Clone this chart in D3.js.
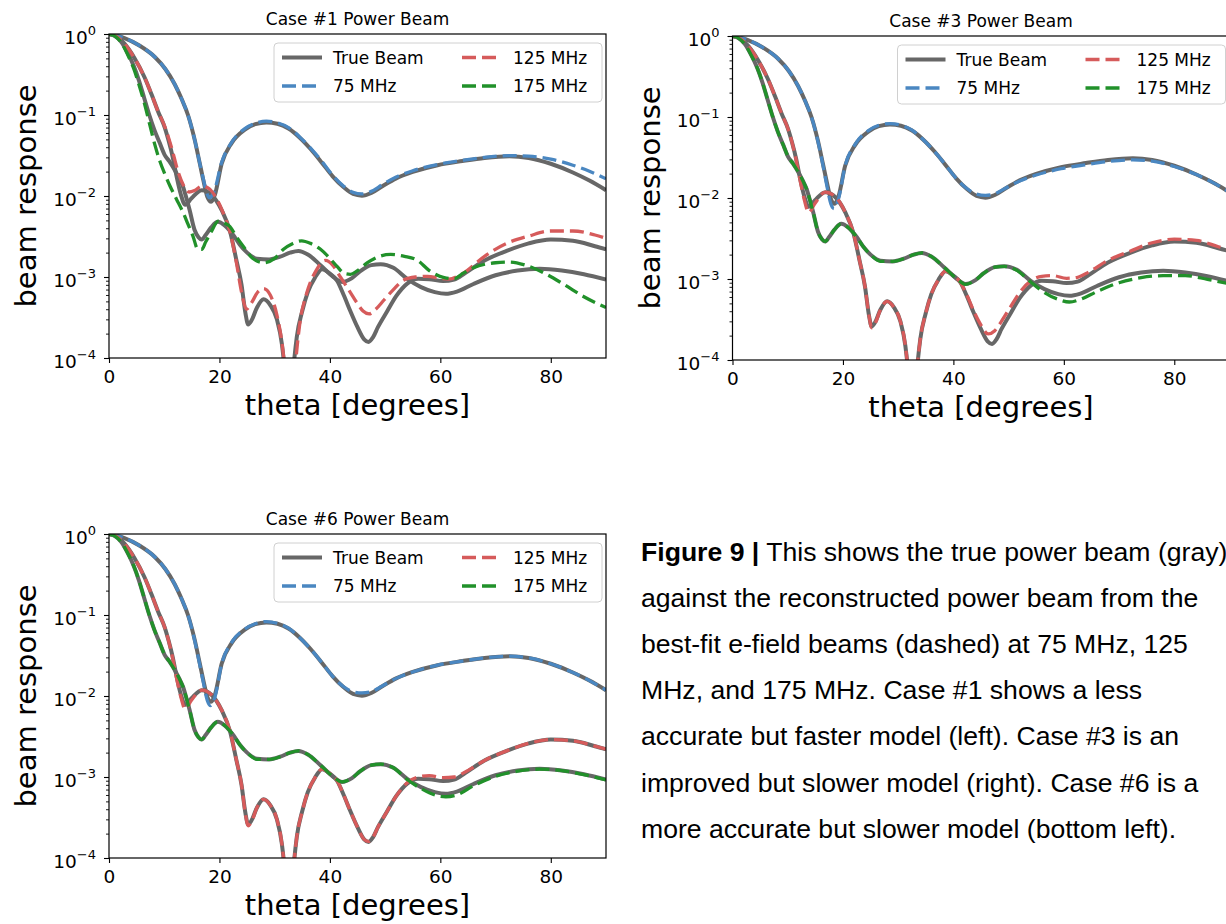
<!DOCTYPE html>
<html><head><meta charset="utf-8">
<script src="https://cdn.jsdelivr.net/npm/d3@7"></script>
<style>
html,body{margin:0;padding:0;background:#fff;overflow:hidden}
svg{display:block}
</style></head><body>
<svg id="chart" width="1226" height="924"></svg>
<script>
// ---------- data: [theta (deg), beam response] ----------
const xTicks = [0, 20, 40, 60, 80];
const yTickExps = [0, -1, -2, -3, -4];
const legendLabels = ["True Beam", "75 MHz", "125 MHz", "175 MHz"];
const panelTitles = ["Case #1 Power Beam", "Case #3 Power Beam", "Case #6 Power Beam"];

const true75 = [[0,1],[2.8,0.89],[5.5,0.72],[8.3,0.52],[10.2,0.37],[11.9,0.24],[13.2,0.155],[14.3,0.1],[15.5,0.05],[16.4,0.026],[17.1,0.0155],[17.8,0.0098],[18.5,0.0085],[19.2,0.0105],[20.4,0.025],[22.2,0.045],[24.6,0.066],[26.5,0.077],[28.5,0.081],[30.5,0.078],[32.5,0.068],[34.6,0.052],[36.5,0.038],[38.5,0.026],[40.5,0.0175],[42.5,0.0128],[44.2,0.0106],[45.8,0.0101],[47.5,0.0109],[49.5,0.0132],[52,0.0165],[55,0.0198],[59.5,0.024],[64,0.027],[68,0.0295],[72.5,0.031],[76,0.0295],[80,0.025],[84,0.0195],[87,0.0155],[90,0.0118]];
const true125 = [[0,1],[1.2,0.95],[2.8,0.76],[4.5,0.52],[6.45,0.29],[7.7,0.18],[8.9,0.11],[10.1,0.07],[10.8,0.048],[11.5,0.031],[12.2,0.018],[13,0.0105],[13.8,0.0078],[14.9,0.0093],[16.8,0.0118],[18.6,0.0103],[20.4,0.0067],[21.9,0.0037],[23,0.0017],[24,0.0008],[24.7,0.00036],[25.2,0.00026],[25.8,0.00029],[26.8,0.00042],[28,0.00053],[29.2,0.00045],[30.4,0.0003],[31.3,0.00015],[32,0.00005],[32.6,0.00001],[33.2,0.00005],[34,0.00018],[35,0.00038],[36,0.00065],[37.3,0.00098],[38.6,0.00125],[40,0.0011],[41.3,0.0009],[42.5,0.0006],[43.7,0.00038],[45,0.00024],[46.2,0.00017],[47,0.000158],[47.8,0.00018],[48.7,0.00024],[50.4,0.00038],[52,0.00058],[54,0.00083],[56,0.00095],[58,0.00094],[60.5,0.00089],[62.5,0.00093],[64.5,0.00112],[68,0.0016],[72,0.0021],[76,0.0026],[80,0.0029],[84,0.0028],[88,0.0024],[90,0.0022]];
const true175 = [[0,1],[1,0.95],[2.2,0.8],[3.4,0.58],[4.5,0.4],[5.4,0.27],[6.4,0.16],[7.3,0.1],[8.2,0.066],[9.2,0.045],[10.1,0.032],[10.9,0.027],[11.9,0.021],[12.8,0.016],[13.4,0.013],[14,0.0095],[14.6,0.0067],[15.5,0.0038],[16.2,0.0031],[16.8,0.0029],[17.5,0.0033],[18.5,0.0041],[19.7,0.0048],[21,0.0043],[22.5,0.0033],[23.7,0.0025],[25,0.002],[26.8,0.00168],[29,0.00165],[31,0.00178],[32.8,0.002],[34.3,0.0021],[36,0.0019],[38.3,0.0014],[40.5,0.00102],[42.2,0.00087],[44,0.00097],[45.5,0.00118],[47.5,0.0014],[49.2,0.00144],[51.5,0.0013],[54,0.00095],[56.5,0.00075],[59,0.00065],[61,0.00062],[63,0.00066],[66,0.00082],[70,0.00105],[74,0.0012],[78,0.00126],[82,0.0012],[86,0.00108],[90,0.00093]];

// Case #1 reconstructions
const case1_75 = [[0,1],[2.8,0.89],[5.5,0.72],[8.3,0.52],[10.2,0.37],[11.9,0.24],[13.2,0.155],[14.3,0.1],[15.5,0.05],[16.4,0.026],[17.1,0.016],[17.8,0.0105],[18.2,0.0095],[19,0.0112],[20.4,0.026],[22.2,0.046],[24.6,0.068],[26.5,0.079],[28.5,0.084],[30.5,0.08],[32.5,0.07],[34.6,0.053],[36.5,0.039],[38.5,0.027],[40.5,0.018],[42.5,0.0132],[44.2,0.0111],[45.8,0.0106],[47.5,0.0114],[49.5,0.0138],[52,0.0172],[55,0.0205],[59.5,0.0245],[64,0.0275],[68,0.030],[72.5,0.0315],[76,0.031],[80,0.0285],[84,0.024],[87,0.0202],[90,0.0163]];
const case1_125 = [[0,1],[1.2,0.95],[2.8,0.76],[4.5,0.52],[6.45,0.29],[7.7,0.18],[8.9,0.11],[10.1,0.072],[10.8,0.052],[11.5,0.036],[12.5,0.02],[13.5,0.0135],[14.5,0.0112],[15.5,0.0117],[16.8,0.0132],[18,0.0125],[19.5,0.0092],[20.5,0.0066],[22,0.0034],[23,0.0016],[24,0.00065],[24.9,0.0004],[25.8,0.00048],[27,0.00066],[28,0.00072],[29.2,0.0006],[30.4,0.00034],[31.4,0.00014],[32.2,0.00004],[32.8,0.00001],[33.5,0.00005],[34.5,0.00025],[35.8,0.00063],[37.5,0.0012],[39.2,0.0016],[40.5,0.0014],[41.9,0.001],[43.5,0.00068],[44.9,0.00048],[46,0.00038],[47.1,0.00035],[48.3,0.0004],[49.8,0.00052],[51.5,0.0007],[53.4,0.00092],[55.5,0.001],[57.7,0.00102],[60,0.00096],[61.5,0.00094],[64,0.0011],[68,0.0018],[72,0.0026],[76,0.0032],[80,0.0037],[84,0.0037],[88,0.0033],[90,0.003]];
const case1_175 = [[0,1],[1,0.95],[2.2,0.79],[3.4,0.55],[4.5,0.37],[5.4,0.24],[6.4,0.14],[7.4,0.075],[8.3,0.043],[9.2,0.027],[10.2,0.018],[11,0.0135],[12.2,0.0092],[13.4,0.0063],[14.3,0.0045],[15.2,0.0032],[16.1,0.0022],[16.8,0.0022],[17.5,0.0027],[18.5,0.0036],[19.8,0.0049],[21,0.0046],[21.9,0.0042],[23,0.0032],[24.3,0.0024],[26,0.0017],[28,0.0015],[30,0.0017],[31.6,0.0022],[33.3,0.0026],[34.9,0.0028],[36.5,0.0026],[38.3,0.0022],[40,0.0017],[41.3,0.00135],[42.7,0.0011],[43.7,0.00108],[45,0.0012],[46.8,0.0015],[49,0.0018],[51,0.0019],[53.5,0.0018],[55.9,0.0016],[58,0.0012],[60.7,0.00098],[62.5,0.00095],[64,0.0011],[66,0.0013],[70,0.0015],[72.5,0.00153],[75.4,0.0014],[79,0.0011],[82.5,0.0008],[86,0.00057],[90,0.00042]];

// Case #3 reconstructions
const case3_75 = [[0,1],[2.8,0.89],[5.5,0.72],[8.3,0.52],[10.2,0.37],[11.9,0.24],[13.2,0.155],[14.3,0.1],[15.5,0.049],[16.4,0.025],[17.1,0.014],[17.8,0.0085],[18.4,0.0074],[19.2,0.0098],[20.4,0.025],[22.2,0.046],[24.6,0.068],[26.5,0.079],[28.5,0.083],[30.5,0.079],[32.5,0.069],[34.6,0.052],[36.5,0.038],[38.5,0.026],[40.5,0.0175],[42.5,0.013],[44.2,0.0112],[45.8,0.0108],[47.5,0.0113],[49.5,0.0133],[52,0.0162],[55,0.0192],[59.5,0.023],[64,0.0258],[68,0.0282],[72.5,0.0295],[76,0.0285],[80,0.0245],[84,0.0195],[87,0.0155],[90,0.0118]];
const case3_125 = [[0,1],[1.2,0.95],[2.8,0.76],[4.5,0.52],[6.45,0.29],[7.7,0.18],[8.9,0.11],[10.1,0.07],[10.8,0.048],[11.5,0.03],[12.2,0.017],[13,0.0095],[13.8,0.0066],[14.9,0.0085],[16.8,0.0118],[18.6,0.0104],[20.4,0.0067],[21.9,0.0037],[23,0.0017],[24,0.0008],[24.7,0.00036],[25.2,0.00025],[25.8,0.00028],[26.8,0.00042],[28,0.00053],[29.2,0.00045],[30.4,0.0003],[31.3,0.00015],[32,0.00005],[32.6,0.00001],[33.2,0.00005],[34,0.00018],[35,0.00038],[36,0.00065],[37.3,0.00098],[38.6,0.00125],[40,0.0011],[41.3,0.0009],[42.5,0.00062],[43.7,0.0004],[45,0.00027],[46.3,0.00021],[47.5,0.00023],[48.7,0.0003],[50.4,0.00046],[52,0.00068],[54,0.00095],[56,0.00108],[58,0.0011],[60.5,0.00102],[62.5,0.00105],[64.5,0.00122],[68,0.0017],[72,0.0022],[76,0.0028],[80,0.0031],[84,0.003],[88,0.0025],[90,0.0023]];
const case3_175 = [[0,1],[1,0.95],[2.2,0.8],[3.4,0.58],[4.5,0.4],[5.4,0.27],[6.4,0.16],[7.3,0.1],[8.2,0.066],[9.2,0.045],[10.1,0.032],[10.9,0.027],[11.9,0.021],[12.8,0.016],[13.4,0.013],[14,0.0095],[14.6,0.0067],[15.5,0.0038],[16.2,0.0031],[16.8,0.0029],[17.5,0.0033],[18.5,0.0041],[19.7,0.0048],[21,0.0043],[22.5,0.0033],[23.7,0.0025],[25,0.002],[26.8,0.00165],[29,0.00165],[31,0.00178],[32.8,0.002],[34.3,0.0021],[36,0.0019],[38.3,0.0014],[40.5,0.00102],[42.2,0.00086],[44,0.00097],[45.5,0.00118],[47.5,0.0014],[49.2,0.00143],[51.5,0.00128],[54,0.00092],[56.5,0.00068],[59,0.00056],[61,0.00052],[63,0.00056],[66,0.0007],[70,0.0009],[74,0.00104],[78,0.0011],[82,0.0011],[86,0.00099],[90,0.00087]];

// Case #6 reconstructions
const case6_75 = [[0,1],[2.8,0.89],[5.5,0.72],[8.3,0.52],[10.2,0.37],[11.9,0.24],[13.2,0.155],[14.3,0.1],[15.5,0.049],[16.4,0.025],[17.1,0.0145],[17.8,0.0088],[18.4,0.0076],[19.2,0.0098],[20.4,0.025],[22.2,0.046],[24.6,0.067],[26.5,0.078],[28.5,0.083],[30.5,0.079],[32.5,0.069],[34.6,0.052],[36.5,0.038],[38.5,0.026],[40.5,0.0175],[42.5,0.013],[44.2,0.0113],[45.8,0.0109],[47.5,0.0113],[49.5,0.0133],[52,0.0165],[55,0.0198],[59.5,0.024],[64,0.027],[68,0.0295],[72.5,0.031],[76,0.0295],[80,0.025],[84,0.0195],[87,0.0155],[90,0.0118]];
const case6_125 = [[0,1],[1.2,0.95],[2.8,0.76],[4.5,0.52],[6.45,0.29],[7.7,0.18],[8.9,0.11],[10.1,0.07],[10.8,0.048],[11.5,0.03],[12.2,0.017],[13,0.0098],[13.8,0.0069],[14.9,0.0088],[16.8,0.0118],[18.6,0.0103],[20.4,0.0067],[21.9,0.0037],[23,0.0017],[24,0.0008],[24.7,0.00035],[25.2,0.00025],[25.8,0.00028],[26.8,0.00042],[28,0.00053],[29.2,0.00045],[30.4,0.0003],[31.3,0.00015],[32,0.00005],[32.6,0.00001],[33.2,0.00005],[34,0.00018],[35,0.00038],[36,0.00065],[37.3,0.00098],[38.6,0.00125],[40,0.0011],[41.3,0.0009],[42.5,0.0006],[43.7,0.00038],[45,0.00024],[46.2,0.00017],[47,0.00016],[47.8,0.00018],[48.7,0.00024],[50.4,0.00038],[52,0.00058],[54,0.00085],[56,0.001],[58,0.00104],[60.5,0.00098],[62.5,0.001],[64.5,0.00115],[68,0.0016],[72,0.0021],[76,0.0026],[80,0.0029],[84,0.0028],[88,0.0024],[90,0.0022]];
const case6_175 = [[0,1],[1,0.95],[2.2,0.8],[3.4,0.58],[4.5,0.4],[5.4,0.27],[6.4,0.16],[7.3,0.1],[8.2,0.066],[9.2,0.045],[10.1,0.032],[10.9,0.027],[11.9,0.021],[12.8,0.016],[13.4,0.013],[14,0.0095],[14.6,0.0067],[15.5,0.0038],[16.2,0.0031],[16.8,0.0029],[17.5,0.0033],[18.5,0.0041],[19.7,0.0048],[21,0.0043],[22.5,0.0033],[23.7,0.0025],[25,0.002],[26.8,0.00165],[29,0.00165],[31,0.00178],[32.8,0.002],[34.3,0.0021],[36,0.0019],[38.3,0.0014],[40.5,0.00102],[42.2,0.00087],[44,0.00097],[45.5,0.00118],[47.5,0.0014],[49.2,0.00144],[51.5,0.0013],[54,0.00093],[56.5,0.00072],[59,0.0006],[61,0.00057],[63,0.0006],[66,0.00078],[70,0.00102],[74,0.00118],[78,0.00125],[82,0.0012],[86,0.00107],[90,0.00092]];

const captionLines = [
  ["Figure 9 |", " This shows the true power beam (gray)"],
  ["", "against the reconstructed power beam from the"],
  ["", "best-fit e-field beams (dashed) at 75 MHz, 125"],
  ["", "MHz, and 175 MHz. Case #1 shows a less"],
  ["", "accurate but faster model (left). Case #3 is an"],
  ["", "improved but slower model (right). Case #6 is a"],
  ["", "more accurate but slower model (bottom left)."]
];

// ---------- styling / layout ----------
const FONT = "DejaVu Sans, sans-serif";
const GRAY = "#676767", BLUE = "#4a87c1", RED = "#d65b5b", GREEN = "#21912a";
const PW = 497, PH = 324;

const svg = d3.select("#chart");
svg.append("rect").attr("width", 1226).attr("height", 924).attr("fill", "#fff");

const panels = [
  {id: "p1", title: panelTitles[0], left: 109, top: 34, recon: [case1_75, case1_125, case1_175]},
  {id: "p2", title: panelTitles[1], left: 732.5, top: 36, recon: [case3_75, case3_125, case3_175]},
  {id: "p3", title: panelTitles[2], left: 109, top: 534, recon: [case6_75, case6_125, case6_175]}
];

const x = d3.scaleLinear().domain([0, 90]).range([0, PW]);
const y = d3.scaleLog().domain([1e-4, 1]).range([PH, 0]);
const line = d3.line().x(d => x(d[0])).y(d => y(d[1])).curve(d3.curveMonotoneX);

const minorTicks = [];
for (let e = -4; e < 0; e++) for (let k = 2; k <= 9; k++) minorTicks.push(k * Math.pow(10, e));

const defs = svg.append("defs");

panels.forEach(p => {
  defs.append("clipPath").attr("id", "clip-" + p.id)
    .append("rect").attr("x", 0).attr("y", 0).attr("width", PW).attr("height", PH);

  const g = svg.append("g").attr("transform", `translate(${p.left},${p.top})`);
  const lines = g.append("g").attr("clip-path", `url(#clip-${p.id})`);

  [true75, true125, true175].forEach(s => {
    lines.append("path").datum(s).attr("d", line)
      .attr("fill", "none").attr("stroke", GRAY).attr("stroke-width", 4)
      .attr("stroke-linejoin", "round");
  });
  [BLUE, RED, GREEN].forEach((c, i) => {
    lines.append("path").datum(p.recon[i]).attr("d", line)
      .attr("fill", "none").attr("stroke", c).attr("stroke-width", 3.3)
      .attr("stroke-dasharray", "14,6");
  });

  // x axis
  const xa = g.append("g").attr("transform", `translate(0,${PH})`)
    .call(d3.axisBottom(x).tickValues(xTicks).tickSize(5).tickPadding(7).tickSizeOuter(0));
  xa.select(".domain").remove();
  xa.selectAll("text").attr("font-family", FONT).attr("font-size", 18.5).attr("fill", "#000");
  xa.selectAll("line").attr("stroke", "#000").attr("stroke-width", 1.1);

  // y axis minor + major ticks
  const ym = g.append("g").call(d3.axisLeft(y).tickValues(minorTicks).tickSize(3).tickFormat(""));
  ym.select(".domain").remove();
  ym.selectAll("line").attr("stroke", "#000").attr("stroke-width", 0.9);
  const yM = g.append("g").call(d3.axisLeft(y).tickValues(yTickExps.map(e => Math.pow(10, e))).tickSize(5).tickFormat(""));
  yM.select(".domain").remove();
  yM.selectAll("line").attr("stroke", "#000").attr("stroke-width", 1.1);
  yTickExps.forEach(e => {
    const t = g.append("text").attr("x", -13).attr("y", y(Math.pow(10, e)) + 9.5)
      .attr("text-anchor", "end").attr("font-family", FONT).attr("font-size", 18.5).attr("fill", "#000")
      .text("10");
    t.append("tspan").attr("dy", -8.5).attr("font-size", 13).text(e === 0 ? "0" : "\u2212" + Math.abs(e));
  });

  // frame
  g.append("rect").attr("width", PW).attr("height", PH).attr("fill", "none")
    .attr("stroke", "#000").attr("stroke-width", 1.2);

  // labels
  g.append("text").attr("x", PW / 2).attr("y", -9).attr("text-anchor", "middle")
    .attr("font-family", FONT).attr("font-size", 17).text(p.title);
  g.append("text").attr("x", PW / 2).attr("y", 381).attr("text-anchor", "middle")
    .attr("font-family", FONT).attr("font-size", 29).text("theta [degrees]");
  g.append("text").attr("transform", `translate(${36 - 109},${PH / 2}) rotate(-90)`)
    .attr("text-anchor", "middle").attr("font-family", FONT).attr("font-size", 29).text("beam response");

  // legend
  const lg = g.append("g").attr("transform", "translate(165,9)");
  lg.append("rect").attr("width", 328).attr("height", 59).attr("rx", 4)
    .attr("fill", "#fff").attr("fill-opacity", 0.85).attr("stroke", "#d0d0d0").attr("stroke-width", 1);
  const items = [
    {label: legendLabels[0], color: GRAY, dash: null, x: 8, y: 14.5},
    {label: legendLabels[1], color: BLUE, dash: "14,6", x: 8, y: 43},
    {label: legendLabels[2], color: RED, dash: "14,6", x: 188, y: 14.5},
    {label: legendLabels[3], color: GREEN, dash: "14,6", x: 188, y: 43}
  ];
  items.forEach(it => {
    lg.append("line").attr("x1", it.x).attr("x2", it.x + 40).attr("y1", it.y).attr("y2", it.y)
      .attr("stroke", it.color).attr("stroke-width", it.dash ? 3.3 : 4)
      .attr("stroke-dasharray", it.dash);
    lg.append("text").attr("x", it.x + 51).attr("y", it.y + 6.2)
      .attr("font-family", FONT).attr("font-size", 17).text(it.label);
  });
});

// caption
const cap = svg.append("g");
captionLines.forEach((ln, i) => {
  const t = cap.append("text").attr("x", 641).attr("y", 561 + i * 46.1)
    .attr("font-family", "Liberation Sans, Arial, sans-serif").attr("font-size", 26.6).attr("fill", "#000");
  if (ln[0]) t.append("tspan").attr("font-weight", "bold").text(ln[0]);
  t.append("tspan").text(ln[1]);
});
</script>
</body></html>
